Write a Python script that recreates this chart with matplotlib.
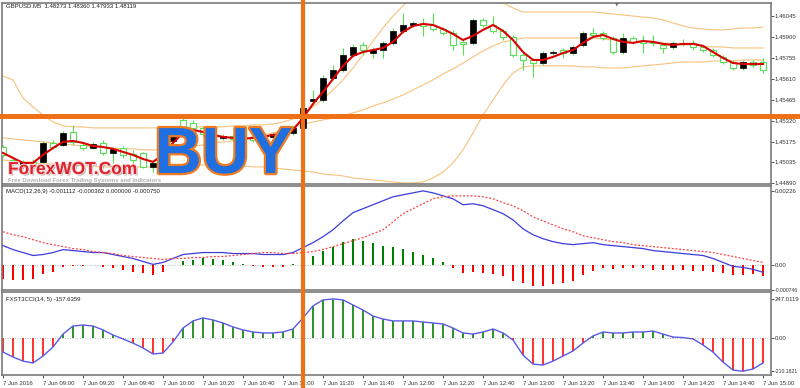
import numpy as np
import matplotlib
matplotlib.use("Agg")
import matplotlib.pyplot as plt
import matplotlib.patheffects as pe
from matplotlib import transforms
from matplotlib.lines import Line2D

plt.rcParams['font.family'] = ['Liberation Sans', 'DejaVu Sans']

# GBPUSD M5 bars, 7 Jun 2016 08:40 .. 15:00
time_labels = ["7 Jun 2016", "7 Jun 09:00", "7 Jun 09:20", "7 Jun 09:40", "7 Jun 10:00",
               "7 Jun 10:20", "7 Jun 10:40", "7 Jun 11:00", "7 Jun 11:20", "7 Jun 11:40",
               "7 Jun 12:00", "7 Jun 12:20", "7 Jun 12:40", "7 Jun 13:00", "7 Jun 13:20",
               "7 Jun 13:40", "7 Jun 14:00", "7 Jun 14:20", "7 Jun 14:40", "7 Jun 15:00"]

opens = [1.45139, 1.45049, 1.45008, 1.45036, 1.45036, 1.45167, 1.45153, 1.45243, 1.45153, 1.45132,
         1.45167, 1.45098, 1.45132, 1.45091, 1.45098, 1.45001, 1.45029, 1.45181, 1.45326, 1.45305,
         1.45271, 1.45236, 1.45202, 1.45215, 1.45195, 1.45209, 1.45195, 1.45209, 1.45222, 1.45236,
         1.45271, 1.45458, 1.45464, 1.45617, 1.45672, 1.45776, 1.45845, 1.45789, 1.45810, 1.45859,
         1.45942, 1.45983, 1.45990, 1.45983, 1.45955, 1.45928, 1.45866, 1.45859, 1.46018, 1.45983,
         1.45942, 1.45900, 1.45776, 1.45741, 1.45720, 1.45789, 1.45810, 1.45789, 1.45845, 1.45928,
         1.45928, 1.45893, 1.45796, 1.45893, 1.45872, 1.45866, 1.45845, 1.45831, 1.45859, 1.45859,
         1.45831, 1.45810, 1.45762, 1.45727, 1.45686, 1.45727, 1.45727]
highs = [1.45153, 1.45070, 1.45049, 1.45056, 1.45181, 1.45188, 1.45250, 1.45292, 1.45167, 1.45174,
         1.45188, 1.45139, 1.45146, 1.45119, 1.45105, 1.45049, 1.45202, 1.45285, 1.45347, 1.45326,
         1.45285, 1.45250, 1.45229, 1.45229, 1.45222, 1.45222, 1.45229, 1.45243, 1.45264, 1.45292,
         1.45464, 1.45534, 1.45637, 1.45706, 1.45824, 1.45852, 1.45866, 1.45831, 1.45872, 1.45962,
         1.46066, 1.46011, 1.46031, 1.46066, 1.45969, 1.45949, 1.45879, 1.46031, 1.46031, 1.46045,
         1.45955, 1.45914, 1.45789, 1.45755, 1.45803, 1.45810, 1.45824, 1.45845, 1.45942, 1.45962,
         1.45942, 1.45907, 1.45928, 1.45907, 1.45914, 1.45914, 1.45859, 1.45872, 1.45886, 1.45879,
         1.45845, 1.45824, 1.45776, 1.45741, 1.45741, 1.45741, 1.45755]
lows = [1.45070, 1.45015, 1.44994, 1.45008, 1.45029, 1.45126, 1.45146, 1.45153, 1.45119, 1.45126,
        1.45084, 1.45029, 1.45063, 1.45029, 1.44994, 1.44966, 1.45015, 1.45167, 1.45257, 1.45250,
        1.45215, 1.45195, 1.45188, 1.45181, 1.45181, 1.45174, 1.45181, 1.45195, 1.45209, 1.45222,
        1.45250, 1.45430, 1.45451, 1.45603, 1.45658, 1.45762, 1.45776, 1.45755, 1.45755, 1.45845,
        1.45928, 1.45969, 1.45907, 1.45942, 1.45914, 1.45810, 1.45776, 1.45845, 1.45969, 1.45928,
        1.45879, 1.45762, 1.45672, 1.45623, 1.45706, 1.45776, 1.45755, 1.45776, 1.45831, 1.45893,
        1.45879, 1.45783, 1.45783, 1.45852, 1.45789, 1.45838, 1.45789, 1.45817, 1.45838, 1.45810,
        1.45796, 1.45762, 1.45713, 1.45672, 1.45672, 1.45693, 1.45651]
closes = [1.45084, 1.45029, 1.45036, 1.45022, 1.45167, 1.45139, 1.45236, 1.45174, 1.45132, 1.45160,
          1.45098, 1.45126, 1.45084, 1.45049, 1.45001, 1.45029, 1.45181, 1.45271, 1.45271, 1.45271,
          1.45229, 1.45209, 1.45215, 1.45195, 1.45209, 1.45188, 1.45215, 1.45229, 1.45250, 1.45271,
          1.45409, 1.45471, 1.45617, 1.45672, 1.45776, 1.45831, 1.45810, 1.45810, 1.45859, 1.45942,
          1.45983, 1.45997, 1.45976, 1.45955, 1.45928, 1.45845, 1.45852, 1.46018, 1.45983, 1.45942,
          1.45900, 1.45776, 1.45741, 1.45720, 1.45789, 1.45796, 1.45789, 1.45831, 1.45928, 1.45914,
          1.45893, 1.45796, 1.45893, 1.45866, 1.45859, 1.45859, 1.45824, 1.45859, 1.45852, 1.45831,
          1.45810, 1.45776, 1.45727, 1.45686, 1.45727, 1.45706, 1.45672]

# smoothed moving average (red)
ma = [1.45098, 1.45063, 1.45029, 1.45029, 1.45084, 1.45132, 1.45174, 1.45181, 1.45167, 1.45146,
      1.45139, 1.45126, 1.45105, 1.45084, 1.45056, 1.45036, 1.45084, 1.45167, 1.45236, 1.45257,
      1.45243, 1.45222, 1.45209, 1.45202, 1.45195, 1.45202, 1.45209, 1.45222, 1.45236, 1.45257,
      1.45340, 1.45437, 1.45520, 1.45610, 1.45700, 1.45769, 1.45796, 1.45810, 1.45824, 1.45866,
      1.45935, 1.45976, 1.45990, 1.45983, 1.45955, 1.45921, 1.45879, 1.45907, 1.45949, 1.45983,
      1.45942, 1.45879, 1.45796, 1.45741, 1.45741, 1.45762, 1.45789, 1.45810, 1.45859, 1.45900,
      1.45914, 1.45886, 1.45866, 1.45859, 1.45872, 1.45866, 1.45852, 1.45845, 1.45852, 1.45852,
      1.45838, 1.45796, 1.45755, 1.45720, 1.45713, 1.45713, 1.45713]

# bands (light orange)
upper = [1.45630, 1.45603, 1.45478, 1.45416, 1.45361, 1.45312, 1.45285, 1.45278, 1.45278, 1.45271,
         1.45271, 1.45271, 1.45271, 1.45271, 1.45271, 1.45271, 1.45271, 1.45271, 1.45271, 1.45278,
         1.45278, 1.45278, 1.45278, 1.45285, 1.45285, 1.45292, 1.45292, 1.45298, 1.45312, 1.45333,
         1.45368, 1.45416, 1.45471, 1.45534, 1.45603, 1.45686, 1.45776, 1.45872, 1.45962, 1.46045,
         1.46115, 1.46177, 1.46239, 1.46280, 1.46301, 1.46301, 1.46280, 1.46246, 1.46211, 1.46177,
         1.46135, 1.46101, 1.46073, 1.46073, 1.46073, 1.46073, 1.46073, 1.46073, 1.46073, 1.46073,
         1.46066, 1.46059, 1.46052, 1.46045, 1.46038, 1.46031, 1.46018, 1.45997, 1.45976, 1.45962,
         1.45955, 1.45949, 1.45949, 1.45955, 1.45962, 1.45962, 1.45969]
middle = [1.45202, 1.45195, 1.45188, 1.45181, 1.45174, 1.45167, 1.45160, 1.45153, 1.45146, 1.45139,
          1.45139, 1.45132, 1.45126, 1.45126, 1.45119, 1.45119, 1.45119, 1.45126, 1.45132, 1.45146,
          1.45153, 1.45167, 1.45174, 1.45181, 1.45195, 1.45209, 1.45222, 1.45236, 1.45257, 1.45278,
          1.45298, 1.45312, 1.45326, 1.45340, 1.45354, 1.45375, 1.45395, 1.45423, 1.45444, 1.45471,
          1.45499, 1.45534, 1.45568, 1.45603, 1.45644, 1.45679, 1.45720, 1.45762, 1.45803, 1.45838,
          1.45866, 1.45879, 1.45893, 1.45893, 1.45893, 1.45893, 1.45893, 1.45893, 1.45893, 1.45893,
          1.45886, 1.45879, 1.45879, 1.45872, 1.45872, 1.45866, 1.45859, 1.45852, 1.45845, 1.45845,
          1.45838, 1.45831, 1.45831, 1.45824, 1.45824, 1.45824, 1.45824]
lower = [1.45049, 1.45042, 1.45036, 1.45029, 1.45022, 1.45022, 1.45015, 1.45015, 1.45008, 1.45008,
         1.45001, 1.45001, 1.45001, 1.45001, 1.45001, 1.45001, 1.45008, 1.45008, 1.45015, 1.45015,
         1.45015, 1.45015, 1.45008, 1.45008, 1.45008, 1.45001, 1.45001, 1.44994, 1.44987, 1.44980,
         1.44973, 1.44966, 1.44952, 1.44946, 1.44939, 1.44925, 1.44918, 1.44911, 1.44904, 1.44897,
         1.44890, 1.44890, 1.44897, 1.44925, 1.44966, 1.45029, 1.45119, 1.45236, 1.45361, 1.45464,
         1.45568, 1.45651, 1.45693, 1.45700, 1.45700, 1.45700, 1.45700, 1.45700, 1.45693, 1.45693,
         1.45686, 1.45686, 1.45686, 1.45693, 1.45700, 1.45706, 1.45713, 1.45720, 1.45727, 1.45727,
         1.45727, 1.45734, 1.45734, 1.45734, 1.45741, 1.45741, 1.45741]

price_ticks = [1.46045, 1.45900, 1.45755, 1.45610, 1.45465, 1.45320, 1.45175, 1.45035, 1.44890]
buy_level = 1.45354
buy_bar = 30

# MACD(12,26,9)
macd_hist = [-0.00042, -0.00045, -0.00045, -0.00042, -0.00027, -0.00021, -0.00006, -0.00003, -0.00002, 0.00002,
             -0.00004, -0.00009, -0.00015, -0.00021, -0.00024, -0.00030, -0.00021, 0.00002, 0.00012, 0.00015,
             0.00021, 0.00018, 0.00015, 0.00009, 0.00003, -0.00001, -0.00004, -0.00006, -0.00006, 0.00003,
             0.00012, 0.00027, 0.00045, 0.00057, 0.00072, 0.00081, 0.00075, 0.00069, 0.00060, 0.00057,
             0.00051, 0.00042, 0.00033, 0.00021, 0.00009, -0.00009, -0.00024, -0.00021, -0.00024, -0.00027,
             -0.00033, -0.00048, -0.00054, -0.00063, -0.00063, -0.00057, -0.00054, -0.00048, -0.00030, -0.00018,
             -0.00009, -0.00012, -0.00009, -0.00009, -0.00009, -0.00015, -0.00015, -0.00015, -0.00015, -0.00018,
             -0.00018, -0.00021, -0.00024, -0.00030, -0.00030, -0.00027, -0.00033]
macd_main = [0.00060, 0.00048, 0.00039, 0.00030, 0.00033, 0.00039, 0.00048, 0.00045, 0.00042, 0.00039,
             0.00039, 0.00033, 0.00027, 0.00021, 0.00012, 0.00003, 0.00009, 0.00021, 0.00033, 0.00036,
             0.00039, 0.00039, 0.00039, 0.00036, 0.00036, 0.00036, 0.00033, 0.00033, 0.00033, 0.00039,
             0.00054, 0.00069, 0.00087, 0.00108, 0.00135, 0.00160, 0.00172, 0.00184, 0.00196, 0.00208,
             0.00214, 0.00220, 0.00226, 0.00220, 0.00211, 0.00202, 0.00184, 0.00187, 0.00181, 0.00169,
             0.00157, 0.00138, 0.00111, 0.00093, 0.00081, 0.00072, 0.00066, 0.00063, 0.00066, 0.00069,
             0.00063, 0.00060, 0.00057, 0.00054, 0.00051, 0.00045, 0.00042, 0.00039, 0.00036, 0.00033,
             0.00030, 0.00021, 0.00009, -0.00003, -0.00006, -0.00012, -0.00021]
macd_signal = [0.00102, 0.00093, 0.00087, 0.00078, 0.00069, 0.00063, 0.00057, 0.00051, 0.00048, 0.00042,
               0.00039, 0.00036, 0.00030, 0.00027, 0.00024, 0.00021, 0.00018, 0.00021, 0.00021, 0.00024,
               0.00024, 0.00027, 0.00027, 0.00030, 0.00033, 0.00036, 0.00039, 0.00039, 0.00036, 0.00036,
               0.00039, 0.00042, 0.00048, 0.00057, 0.00066, 0.00075, 0.00084, 0.00096, 0.00108, 0.00132,
               0.00157, 0.00172, 0.00187, 0.00202, 0.00208, 0.00211, 0.00211, 0.00211, 0.00208, 0.00202,
               0.00190, 0.00181, 0.00166, 0.00147, 0.00135, 0.00123, 0.00111, 0.00102, 0.00090, 0.00084,
               0.00078, 0.00072, 0.00069, 0.00063, 0.00060, 0.00057, 0.00054, 0.00051, 0.00048, 0.00045,
               0.00042, 0.00039, 0.00033, 0.00027, 0.00021, 0.00015, 0.00009]
macd_ticks = [0.00226, 0.0, -0.000746]
macd_tick_labels = ["0.00226", "0.00", "-0.000746"]

# FXST3CCI(14, 5)
cci = [-89, -120, -146, -158, -114, -57, 25, 76, 82, 76,
       51, 19, -6, -32, -63, -101, -95, -25, 63, 108,
       127, 114, 95, 70, 51, 38, 32, 32, 38, 57,
       127, 203, 241, 247, 241, 209, 177, 139, 120, 108,
       108, 108, 101, 95, 89, 63, 32, 25, 38, 57,
       32, -13, -108, -165, -171, -146, -114, -82, -32, 13,
       38, 32, 32, 38, 38, 44, 25, 6, 3, -6,
       -44, -89, -152, -203, -210, -196, -158]
cci_ticks = [247.0119, 0.0, -210.1821]
cci_tick_labels = ["247.0119", "0.00", "-210.1821"]

# ---- figure ----
W, H = 800, 388
fig = plt.figure(figsize=(W / 100, H / 100), dpi=100)
fig.patch.set_facecolor("white")

def box(top, bottom, left=2, right=771):
    return [left / W, 1 - bottom / H, (right - left) / W, (bottom - top) / H]

ax = fig.add_axes(box(3, 184))
ax2 = fig.add_axes(box(186, 290), sharex=ax)
ax3 = fig.add_axes(box(292, 375), sharex=ax)

frame = "#7a7a7a"
small = 4.3
for a in (ax, ax2, ax3):
    a.set_facecolor("white")
    for s in a.spines.values():
        s.set_color(frame)
        s.set_linewidth(1.2)
    a.yaxis.tick_right()
    a.tick_params(axis="y", direction="out", length=2, width=0.6, colors="#333333",
                  labelsize=small, pad=0.8)
    a.tick_params(axis="x", bottom=False, labelbottom=False)

x = np.arange(len(opens))
o = np.array(opens)
c = np.array(closes)
bull = c >= o
wick = "#55e055"

# main panel
ax.plot(x, upper, color="#f7c27c", lw=0.8, zorder=1)
ax.plot(x, middle, color="#f7c27c", lw=0.8, zorder=1)
ax.plot(x, lower, color="#f7c27c", lw=0.8, zorder=1)
ax.vlines(x, lows, highs, color=wick, lw=0.8, zorder=2)
ax.bar(x[bull], (c - o)[bull], bottom=o[bull], width=0.55, color="black",
       edgecolor="black", lw=0.5, zorder=3)
ax.bar(x[~bull], (o - c)[~bull], bottom=c[~bull], width=0.55, color="white",
       edgecolor=wick, lw=0.8, zorder=3)
ax.plot(x, ma, color="#d80000", lw=1.5, zorder=4)
ax.set_ylim(1.44883, 1.46135)
ax.set_xlim(-0.1, 76.8)
ax.set_yticks(price_ticks)
ax.set_yticklabels([f"{p:.5f}" for p in price_ticks])

# MACD panel
hcol = ["#008000" if v >= 0 else "#ff0000" for v in macd_hist]
ax2.bar(x, macd_hist, width=0.22, color=hcol, zorder=2)
ax2.axhline(0, color="#9aa89a", lw=0.6, ls=(0, (1, 2)), zorder=1)
ax2.plot(x, macd_main, color="#3c3cdc", lw=0.9, zorder=3)
ax2.plot(x, macd_signal, color="#ff3c3c", lw=0.9, ls=(0, (1.5, 1.5)), zorder=3)
ax2.set_ylim(-0.000722, 0.002408)
ax2.set_yticks(macd_ticks)
ax2.set_yticklabels(macd_tick_labels)

# CCI panel
cci_a = np.array(cci)
ccol = ["#1a8a1a" if v >= 0 else "#ff2020" for v in cci]
ax3.axhline(0, color="#9aa89a", lw=0.6, ls=(0, (1, 2)), zorder=1)
ax3.vlines(x, 0, cci_a, colors=ccol, lw=1.3, zorder=2)
ax3.plot(x, cci, color="#5a5ae6", lw=1.0, zorder=3)
ax3.set_ylim(-234, 291)
ax3.set_yticks(cci_ticks)
ax3.set_yticklabels(cci_tick_labels)

# the long bottom labels sit at the right edge; keep them inside the image
for a in (ax2, ax3):
    a.get_yticklabels()[-1].set_fontsize(3.7)

ax3.tick_params(axis="x", bottom=True, labelbottom=True, direction="out", length=2,
                width=0.6, colors="#333333", labelsize=small, pad=2)
ax3.set_xticks(range(0, len(opens), 4))
ax3.set_xticklabels(time_labels)
plt.setp(ax3.get_xticklabels(), ha="left")

# titles inside panels
fig.text(6 / W, 1 - 7 / H, "GBPUSD.M5  1.48273 1.48360 1.47933 1.48119", fontsize=small,
         va="center", color="#222222")
fig.text(6 / W, 1 - 192 / H, "MACD(12,26,9) -0.001112 -0.000362 0.000000 -0.000750",
         fontsize=small, va="center", color="#222222")
fig.text(6 / W, 1 - 299 / H, "FXST3CCI(14, 5) -157.6359", fontsize=small, va="center",
         color="#222222")
fig.text(617 / W, 1 - 4 / H, "\u25bc", fontsize=3.5, color="#707070", ha="center",
         va="center", family="DejaVu Sans")

# signal cross lines
orange = "#f07018"
th = transforms.blended_transform_factory(fig.transFigure, ax.transData)
fig.add_artist(Line2D([0, 1], [buy_level, buy_level], transform=th, color=orange, lw=3.6))
tv = transforms.blended_transform_factory(ax.transData, fig.transFigure)
fig.add_artist(Line2D([buy_bar, buy_bar], [0, 1], transform=tv, color=orange, lw=3.0))

# BUY label and logo
fig.text(223.5 / W, 1 - 173 / H, "BUY", fontsize=47, weight="bold", color="#1f6fe0",
         ha="center", va="baseline",
         path_effects=[pe.withStroke(linewidth=3.2, foreground="#ee7a22")])
fig.text(8 / W, 1 - 174 / H, "ForexWOT.Com", fontsize=12.5, weight="bold", color="#e0202a",
         va="baseline",
         path_effects=[pe.SimplePatchShadow(offset=(1, -1), shadow_rgbFace="#909090", alpha=0.8),
                       pe.withStroke(linewidth=1.4, foreground="#f4dede")])
fig.text(8 / W, 1 - 180.5 / H, "Free Download Forex Trading Systems and Indicators",
         fontsize=4.3, weight="bold", color="#b0b0b0", va="center")

fig.savefig("out.png", dpi=100, facecolor="white")
